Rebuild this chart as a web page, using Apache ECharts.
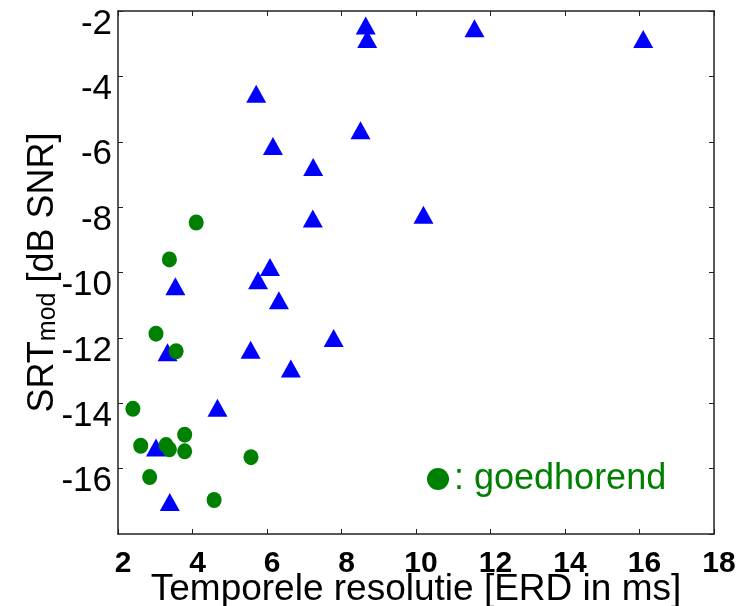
<!DOCTYPE html>
<html>
<head>
<meta charset="utf-8">
<script src="https://cdn.jsdelivr.net/npm/echarts@6/dist/echarts.min.js"></script>
<style>html,body{margin:0;padding:0;background:#fff}#c{width:740px;height:606px}</style>
</head>
<body>
<div id="c"></div>
<script>
// Blue triangles (x = ERD in ms, y = SRT_mod in dB SNR)
var triX = [5.71, 6.16, 7.24, 7.23, 3.54, 6.08, 5.76, 6.32, 8.51, 8.65, 8.69, 11.57, 16.10, 10.20, 7.79, 3.33, 5.56, 6.64, 4.67, 3.02, 3.39];
var triY = [-4.53, -6.13, -6.77, -8.35, -10.42, -9.83, -10.24, -10.85, -5.65, -2.44, -2.86, -2.53, -2.86, -8.23, -12.0, -12.44, -12.36, -12.94, -14.14, -15.35, -17.02];
// Green circles: goedhorend
var goedX = [4.10, 3.38, 3.02, 3.56, 2.40, 2.61, 3.29, 3.38, 3.79, 3.79, 5.57, 2.85, 4.58];
var goedY = [-8.47, -9.60, -11.87, -12.41, -14.17, -15.30, -15.28, -15.41, -14.96, -15.47, -15.65, -16.26, -16.96];
var xTicks = [2, 4, 6, 8, 10, 12, 14, 16, 18];
var yTicks = [-18, -16, -14, -12, -10, -8, -6, -4, -2];

var FONT = "'Liberation Sans', Arial, sans-serif";
function zip(a, b) { return a.map(function (v, i) { return [v, b[i]]; }); }

var chart = echarts.init(document.getElementById('c'), null, { renderer: 'canvas' });
var axisLine = { show: true, lineStyle: { color: '#222', width: 1.5 } };
var tick = { show: true, inside: true, length: 5, lineStyle: { color: '#222', width: 1 } };
chart.setOption({
  animation: false,
  backgroundColor: '#fff',
  grid: { left: 118, right: 26, top: 11, bottom: 72, containLabel: false, outerBoundsMode: 'none' },
  xAxis: [{
    type: 'value', position: 'bottom', min: xTicks[0], max: xTicks[xTicks.length - 1], interval: 2,
    axisLine: axisLine, axisTick: tick, splitLine: { show: false },
    axisLabel: { fontFamily: FONT, fontSize: 30, fontWeight: 'bold', color: '#000', margin: 15, padding: [0, 0, 0, 10] },
    name: 'Temporele resolutie [ERD in ms]', nameLocation: 'middle', nameGap: 37, nameMoveOverlap: false,
    nameTextStyle: { fontFamily: FONT, fontSize: 37, color: '#000' }
  }, {
    type: 'value', position: 'top', min: xTicks[0], max: xTicks[xTicks.length - 1], interval: 2,
    axisLine: axisLine, axisTick: tick, axisLabel: { show: false }, splitLine: { show: false }
  }],
  yAxis: [{
    type: 'value', position: 'left', min: yTicks[0], max: yTicks[yTicks.length - 1], interval: 2,
    axisLine: axisLine, axisTick: tick, splitLine: { show: false },
    axisLabel: { fontFamily: FONT, fontSize: 35, color: '#000', margin: 6, verticalAlign: 'top', lineHeight: 26, showMinLabel: false,
      formatter: function (v) { return v === yTicks[0] ? '' : String(v); } },
    name: '{a|SRT}{b|mod}{a| [dB SNR]}', nameLocation: 'middle', nameGap: 57, nameRotate: 90, nameMoveOverlap: false,
    nameTextStyle: { fontFamily: FONT, color: '#000',
      rich: {
        a: { fontFamily: FONT, fontSize: 36, color: '#000', lineHeight: 36, verticalAlign: 'top' },
        b: { fontFamily: FONT, fontSize: 25, color: '#000', lineHeight: 25, verticalAlign: 'bottom', padding: [24, 0, 0, 0] }
      } }
  }, {
    type: 'value', position: 'right', min: yTicks[0], max: yTicks[yTicks.length - 1], interval: 2,
    axisLine: axisLine, axisTick: tick, axisLabel: { show: false }, splitLine: { show: false }
  }],
  legend: {
    data: ['goedhorend'], left: 427, top: 461, padding: 0, icon: 'circle', itemWidth: 22, itemHeight: 22, itemGap: 0,
    formatter: ': {name}',
    textStyle: { fontFamily: FONT, fontSize: 36, color: '#008000', lineHeight: 36 }
  },
  series: [{
    name: 'slechthorend', type: 'scatter', xAxisIndex: 0, yAxisIndex: 0,
    symbol: 'triangle', symbolSize: [20, 18], itemStyle: { color: '#0000ff', opacity: 1 },
    data: zip(triX, triY)
  }, {
    name: 'goedhorend', type: 'scatter', xAxisIndex: 0, yAxisIndex: 0,
    symbol: 'circle', symbolSize: [15, 16], itemStyle: { color: '#008000', opacity: 1 },
    data: zip(goedX, goedY)
  }]
});
</script>
</body>
</html>
